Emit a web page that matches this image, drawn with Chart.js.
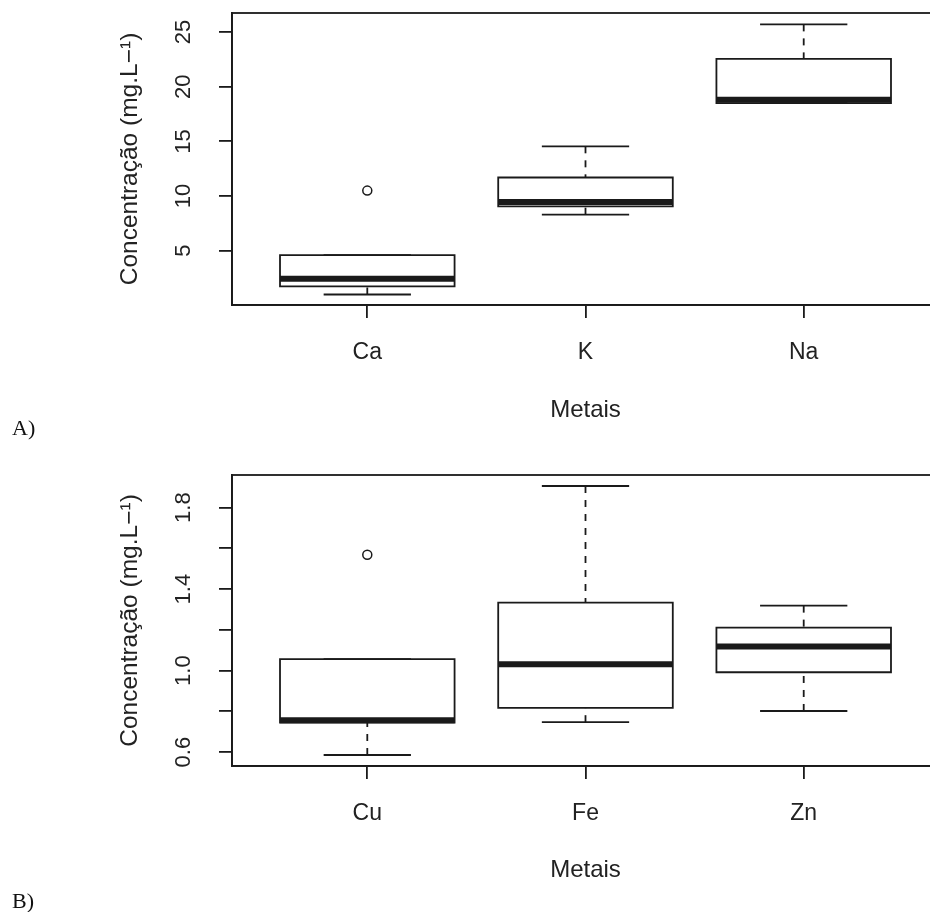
<!DOCTYPE html>
<html>
<head>
<meta charset="utf-8">
<script src="https://cdn.jsdelivr.net/npm/chart.js@4.4.1/dist/chart.umd.min.js"></script>
<style>
  body { margin: 0; overflow: hidden; background: #fff; }
  #wrap { position: relative; width: 945px; height: 912px; }
  canvas { position: absolute; left: 0; }
  .tag { position: absolute; left: 12px; font-family: "Liberation Serif", "Times New Roman", serif; font-size: 22px; line-height: 22px; color: #111; }
</style>
</head>
<body>
<div id="wrap">
  <canvas id="chartA" width="945" height="445" style="top:0px"></canvas>
  <canvas id="chartB" width="945" height="467" style="top:445px"></canvas>
  <div class="tag" style="top:417px">A)</div>
  <div class="tag" style="top:890px">B)</div>
</div>
<script>
// Panel A - major metals
const categoriesA = ["Ca", "K", "Na"];
const minA = [1.0, 8.3, 18.5];
const q1A = [1.75, 9.05, 18.5];
const medianA = [2.45, 9.45, 18.8];
const q3A = [4.6, 11.7, 22.55];
const maxA = [4.6, 14.55, 25.7];
const outliersA = [[10.5], [], []];
const yTicksA = [5, 10, 15, 20, 25];
const yTickLabelsA = ["5", "10", "15", "20", "25"];

// Panel B - trace metals
const categoriesB = ["Cu", "Fe", "Zn"];
const minB = [0.586, 0.747, 0.802];
const q1B = [0.745, 0.817, 0.992];
const medianB = [0.757, 1.031, 1.118];
const q3B = [1.056, 1.334, 1.211];
const maxB = [1.056, 1.906, 1.319];
const outliersB = [[1.569], [], []];
const yTicksB = [0.6, 0.8, 1.0, 1.2, 1.4, 1.6, 1.8];
const yTickLabelsB = ["0.6", "", "1.0", "", "1.4", "", "1.8"];

const xTitle = "Metais";
const yTitle = "Concentra\u00e7\u00e3o (mg.L\u2212\u00b9)";

const ink = "#1a1a1a";
const textColor = "#222";
const lw = 1.8;
const family = "'Liberation Sans', Arial, sans-serif";

//Helper functions
const lineSet = (pts, width, dash, cap) => ({
  data: pts,
  showLine: true,
  borderColor: ink,
  borderWidth: width,
  borderDash: dash || [],
  borderCapStyle: cap || "butt",
  pointRadius: 0,
  pointHoverRadius: 0,
  fill: false,
  tension: 0,
});

const buildDatasets = (mins, q1s, meds, q3s, maxs, outs) => {
  const sets = [];
  mins.forEach((lo, i) => {
    const x = i + 1;
    //box
    sets.push(
      lineSet(
        [
          { x: x - 0.4, y: q1s[i] },
          { x: x + 0.4, y: q1s[i] },
          { x: x + 0.4, y: q3s[i] },
          { x: x - 0.4, y: q3s[i] },
          { x: x - 0.4, y: q1s[i] },
        ],
        lw,
        null,
        "square"
      )
    );
    //median
    sets.push(lineSet([{ x: x - 0.4, y: meds[i] }, { x: x + 0.4, y: meds[i] }], 6));
    //whiskers
    sets.push(lineSet([{ x: x, y: maxs[i] }, { x: x, y: q3s[i] }], lw, [7, 7]));
    sets.push(lineSet([{ x: x, y: lo }, { x: x, y: q1s[i] }], lw, [7, 7]));
    //staples
    sets.push(lineSet([{ x: x - 0.2, y: maxs[i] }, { x: x + 0.2, y: maxs[i] }], lw));
    sets.push(lineSet([{ x: x - 0.2, y: lo }, { x: x + 0.2, y: lo }], lw));
  });
  //outliers
  sets.push({
    data: outs.flatMap((o, i) => o.map((v) => ({ x: i + 1, y: v }))),
    showLine: false,
    pointStyle: "circle",
    pointRadius: 4.5,
    pointHoverRadius: 4.5,
    borderColor: ink,
    backgroundColor: "rgba(0,0,0,0)",
    pointBorderWidth: 1.5,
  });
  return sets;
};

const framePlugin = {
  id: "frame",
  afterDatasetsDraw: (chart) => {
    const a = chart.chartArea;
    const c = chart.ctx;
    c.save();
    c.strokeStyle = ink;
    c.lineWidth = lw;
    c.strokeRect(a.left, a.top, a.right - a.left, a.bottom - a.top);
    c.restore();
  },
};

//Redering Chart
const render_chart = (ctx, cfg) => {
  return new Chart(ctx, {
    type: "scatter",
    data: { datasets: cfg.datasets },
    plugins: [framePlugin],
    options: {
      animation: false,
      responsive: false,
      devicePixelRatio: 1,
      events: [],
      layout: { padding: { top: cfg.padTop, right: 5, left: 0, bottom: 0 } },
      plugins: {
        legend: { display: false },
        tooltip: { enabled: false },
      },
      scales: {
        x: {
          type: "linear",
          min: 0.38,
          max: 3.62,
          afterBuildTicks: (axis) => {
            axis.ticks = cfg.categories.map((c, i) => ({ value: i + 1 }));
          },
          afterFit: (s) => {
            s.height = cfg.xHeight;
            s.paddingLeft = 0;
            s.paddingRight = 0;
          },
          ticks: {
            callback: (v, i) => cfg.categories[i],
            autoSkip: false,
            maxRotation: 0,
            padding: 21,
            color: textColor,
            font: { family: family, size: 23 },
          },
          grid: { drawOnChartArea: false, drawTicks: true, tickLength: 13, color: ink, lineWidth: lw },
          border: { display: true, color: ink, width: lw },
          title: {
            display: true,
            text: xTitle,
            color: textColor,
            font: { family: family, size: 24 },
            padding: { top: 0, bottom: cfg.xTitlePad },
          },
        },
        y: {
          type: "linear",
          min: cfg.yMin,
          max: cfg.yMax,
          afterBuildTicks: (axis) => {
            axis.ticks = cfg.yTicks.map((v) => ({ value: v }));
          },
          afterFit: (s) => {
            s.width = 232;
            s.paddingTop = 0;
            s.paddingBottom = 0;
          },
          ticks: {
            callback: (v, i) => cfg.yLabels[i],
            autoSkip: false,
            minRotation: 90,
            maxRotation: 90,
            crossAlign: "center",
            padding: cfg.yTickPad,
            color: textColor,
            font: { family: family, size: 22 },
          },
          grid: { drawOnChartArea: false, drawTicks: true, tickLength: 13, color: ink, lineWidth: lw },
          border: { display: true, color: ink, width: lw },
          title: {
            display: true,
            text: yTitle,
            color: textColor,
            font: { family: family, size: 24.5 },
            padding: { top: 116, bottom: 0 },
          },
        },
      },
    },
  });
};

const myChartA = render_chart(document.getElementById("chartA").getContext("2d"), {
  datasets: buildDatasets(minA, q1A, medianA, q3A, maxA, outliersA),
  categories: categoriesA,
  yTicks: yTicksA,
  yLabels: yTickLabelsA,
  yMin: 0.04,
  yMax: 26.74,
  padTop: 13,
  xHeight: 140,
  xTitlePad: 20,
  yTickPad: 23,
});

const myChartB = render_chart(document.getElementById("chartB").getContext("2d"), {
  datasets: buildDatasets(minB, q1B, medianB, q3B, maxB, outliersB),
  categories: categoriesB,
  yTicks: yTicksB,
  yLabels: yTickLabelsB,
  yMin: 0.532,
  yMax: 1.96,
  padTop: 30,
  xHeight: 146,
  xTitlePad: 27,
  yTickPad: 20,
});
</script>
</body>
</html>
